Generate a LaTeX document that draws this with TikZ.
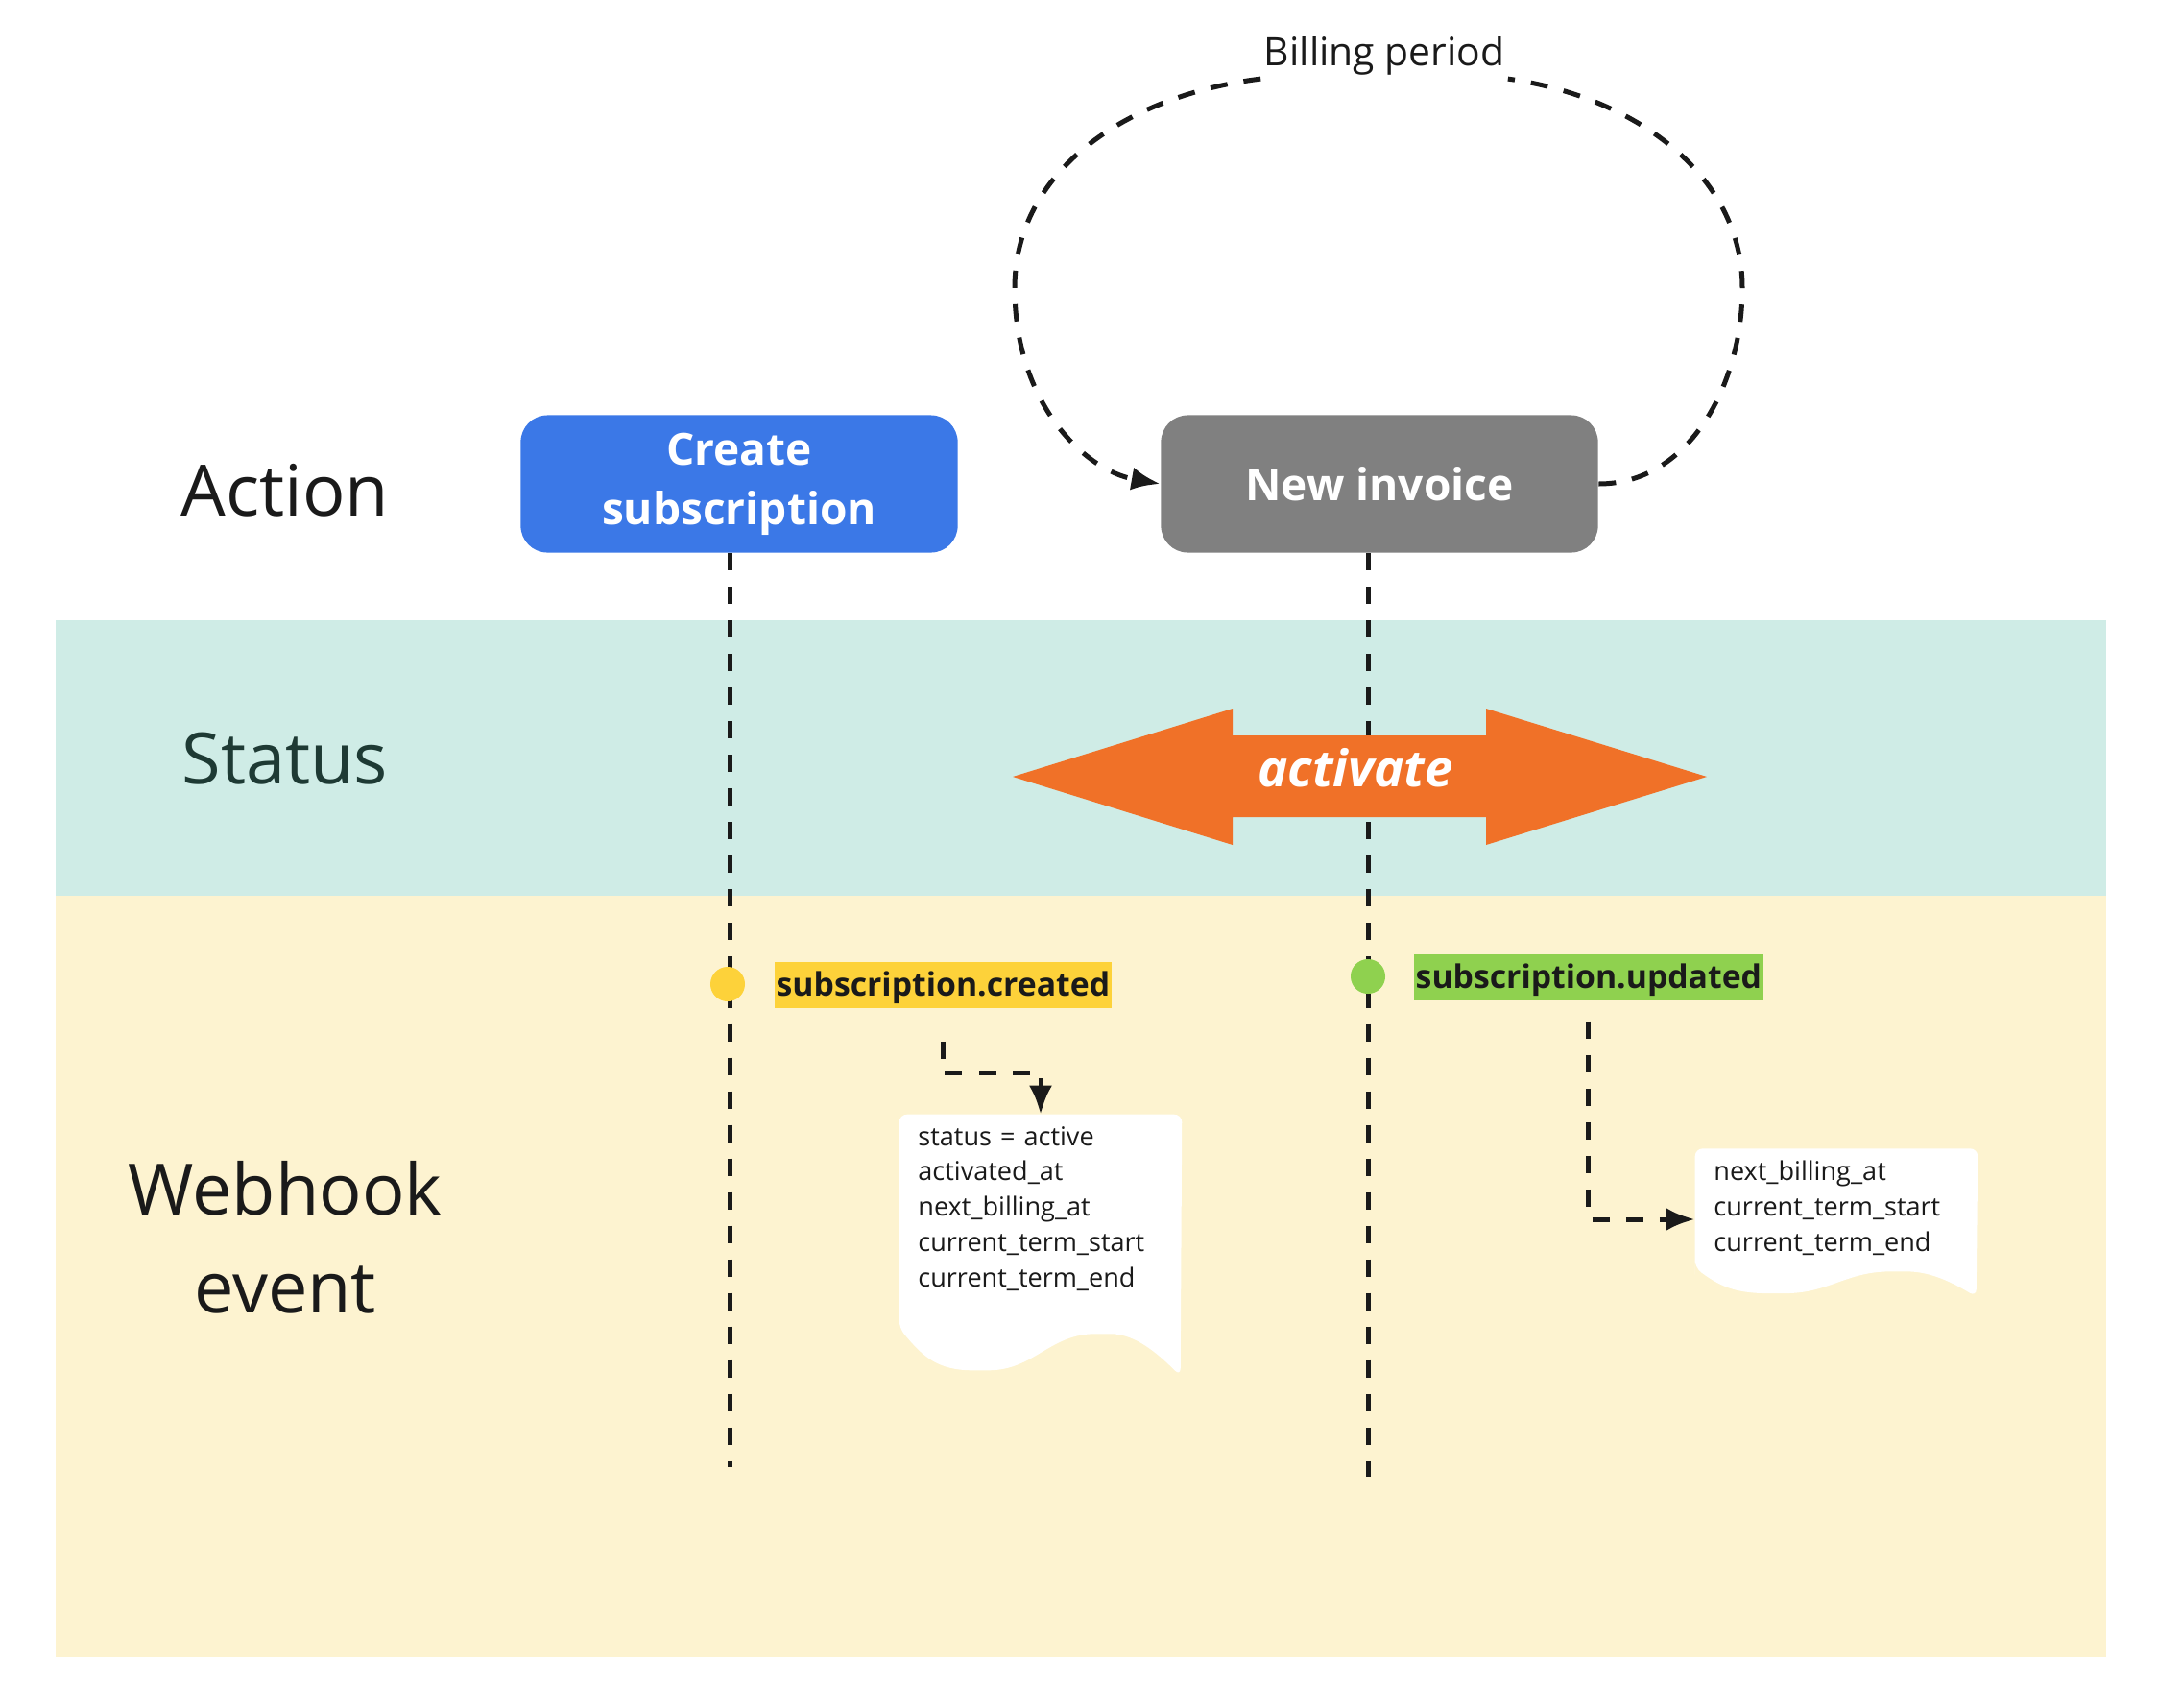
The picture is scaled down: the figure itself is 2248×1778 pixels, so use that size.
\documentclass[tikz,border=0pt]{standalone}
\usepackage{fontspec}
\setmainfont{Open Sans}
\usepackage{tikz}
\usetikzlibrary{arrows.meta,backgrounds}

\definecolor{bandteal}{HTML}{CFECE6}
\definecolor{bandyellow}{HTML}{FDF3D0}
\definecolor{boxblue}{HTML}{3B78E7}
\definecolor{boxgray}{HTML}{808080}
\definecolor{actorange}{HTML}{F07128}
\definecolor{hlyellow}{HTML}{FDD23A}
\definecolor{hlgreen}{HTML}{8FD14F}
\definecolor{ink}{HTML}{1A1A1A}
\definecolor{statusink}{HTML}{1E3A34}

\begin{document}
\begin{tikzpicture}[x=0.01cm, y=-0.01cm, >={Latex[length=0.3cm,width=0.24cm]},
  lane/.style={font=\fontsize{21}{29}\selectfont, text=ink, align=center},
  action/.style={rounded corners=0.28cm, minimum width=4.55cm, minimum height=1.43cm,
    text=white, align=center, font=\bfseries\fontsize{13.1}{17.6}\selectfont},
  dashline/.style={dash pattern=on 0.18cm off 0.17cm, line width=0.05cm, draw=ink},
  evt/.style={inner ysep=0, inner xsep=0.02cm, text height=0.35cm, text depth=0.13cm,
    text=ink, font=\bfseries\fontsize{9.6}{12}\selectfont},
  dot/.style={circle, inner sep=0, minimum size=0.36cm},
  doc/.style={text width=2.55cm, inner xsep=0.19cm, minimum width=2.93cm, align=left,
    text=ink, font=\fontsize{7.7}{10.5}\selectfont}]

\useasboundingbox (0,0) rectangle (2248,1778);

% Les étiquettes des couloirs
\node[lane, anchor=base] (L1) at (297,537) {Action};
\node[lane, anchor=base, text=statusink] (L2) at (297,816) {Status};
\node[lane] (L3) at (297,1289) {Webhook\\event};

% Les actions
\node[action, fill=boxblue] (A1) at (770,504) {Create\\subscription};
\node[action, fill=boxgray] (A2) at (1437,504) {New invoice};

% Les lignes de vie
\coordinate (Z1) at (760,1528);
\coordinate (Z2) at (1425,1538);
\foreach \i in {1,2}
\draw[dashline] (A\i.south -| Z\i) -- (Z\i);

% La double flèche du statut
\fill[actorange] (1055,809) -- (1284,738) -- (1284,766) -- (1548,766) -- (1548,738)
  -- (1778,809) -- (1548,880) -- (1548,851) -- (1284,851) -- (1284,880) -- cycle;
\node[text=white, font=\bfseries\itshape\fontsize{15}{18}\selectfont] (T) at (1412,800) {activate};

% La boucle de facturation
\node[text=ink, inner sep=0.03cm, font=\fontsize{11.6}{14}\selectfont] (B) at (1442,58) {Billing period};
\draw[dashline] (A2.east) .. controls (1760,504) and (1815,400) .. (1815,300)
  .. controls (1815,180) and (1700,100) .. (B.south east);
\draw[dashline, ->] (B.south west) .. controls (1170,100) and (1057,180) .. (1057,300)
  .. controls (1057,420) and (1130,490) .. (A2.west);

% Les événements webhook
\node[dot, fill=hlyellow] (P1) at (758,1025) {};
\node[dot, fill=hlgreen] (P2) at (1425,1017) {};
\node[evt, fill=hlyellow, anchor=base west] (E1) at (806,1037) {subscription.created};
\node[evt, fill=hlgreen, anchor=base west] (E2) at (1472,1029) {subscription.updated};

% Les champs mis à jour
\node[doc, minimum height=1.84cm] (D1) at (1084,1259)
  {status = active\\activated\_at\\next\_billing\_at\\current\_term\_start\\current\_term\_end};
\node[doc, minimum height=1.12cm] (D2) at (1913,1258)
  {next\_billing\_at\\current\_term\_start\\current\_term\_end};

\draw[dashline, ->, shorten <=0.34cm] (E1.south) -- ++(0,67) -| (D1.north);
\draw[dashline, ->, shorten <=0.21cm] (E2.south) |- ([yshift=-0.12cm]D2.west);

% Les fonds
\begin{scope}[on background layer]
\fill[bandteal] (58,646) rectangle (2194,933);
\fill[bandyellow] (58,933) rectangle (2194,1726);
\foreach \d/\e/\a in {D1/26/1, D2/1/0.6}
\fill[white, rounded corners=0.08cm] (\d.north west) -- (\d.south west) -- ++(0,\e)
  .. controls +(25,{30*\a}) and +(-45,0) .. ++(85,{44*\a})
  .. controls +(55,0) and +(-55,0) .. ++(127,{-38*\a})
  .. controls +(30,0) and +(-30,{-30*\a}) .. ++(81,{44*\a})
  -- (\d.north east) -- cycle;
\end{scope}

\end{tikzpicture}
\end{document}
